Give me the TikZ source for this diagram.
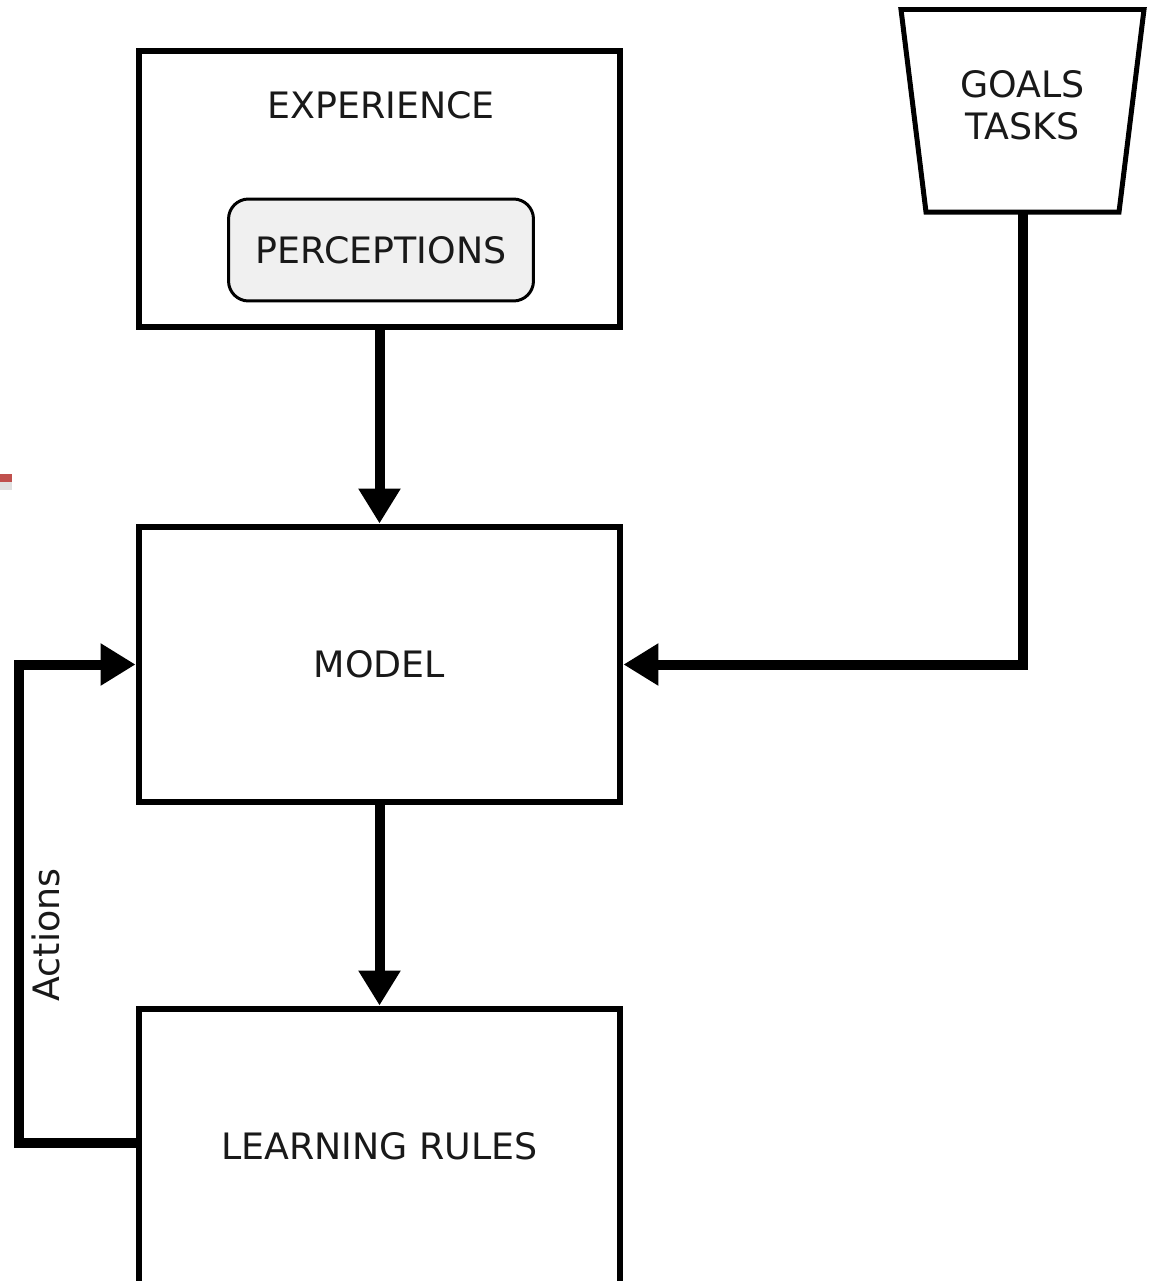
\documentclass[tikz,border=0pt]{standalone}
\usepackage{fontspec}
\setmainfont{DejaVu Sans}
\usetikzlibrary{arrows.meta}
\definecolor{marker}{RGB}{192,80,77}
\begin{document}
\begin{tikzpicture}[x=0.02cm,y=-0.02cm,font=\fontsize{20.7}{24}\selectfont,
  box/.style={draw=black, line width=0.12cm, fill=white, minimum width=9.64cm, inner sep=0pt, text=black!90},
  percbox/.style={draw=black, line width=0.06cm, fill=black!6, rounded corners=0.4cm, minimum width=6.1cm, minimum height=2.04cm, inner sep=0pt, text=black!90},
  flow/.style={draw=black, line width=0.2cm, -{Triangle[length=0.7cm,width=0.8cm]}},
  lbl/.style={text=black!90, inner sep=0pt}]
\useasboundingbox (0,0) rectangle (1151,1281);
\fill[marker] (0,474) rectangle (12,482);
\fill[black!12] (0,482) rectangle (12,490);
\node[box, minimum height=5.54cm] (exp) at (379.5,189) {};
\node[lbl] (expTitle) at (381,105) {EXPERIENCE};
\node[percbox] (perc) at (381,250) {PERCEPTIONS};
\draw[line width=0.1cm, fill=white] (901,9.5) -- (1144,9.5) -- (1119,212) -- (926,212) -- cycle;
\node[lbl, align=center] (goals) at (1022.5,105) {GOALS\\TASKS};
\coordinate (goalsBot) at (1022.5,212);
\node[box, minimum height=5.52cm] (model) at (379.5,664.5) {MODEL};
\node[box, minimum height=5.52cm] (rules) at (379.5,1146.5) {LEARNING RULES};
\node[lbl, rotate=90] (act) at (46,935) {Actions};
\draw[flow] (exp) -- (model);
\draw[flow] (model) -- (rules);
\draw[flow] (goalsBot) |- (model.east);
\draw[flow] (rules.west) ++(0,-4) -- ++(-117,0) |- (model.west);
\end{tikzpicture}
\end{document}
